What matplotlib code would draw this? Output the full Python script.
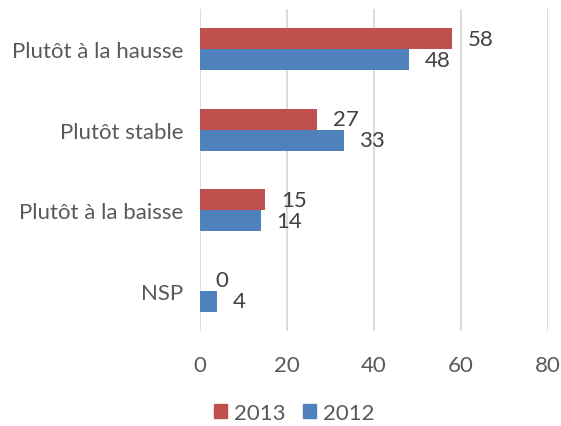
import numpy as np
import matplotlib.pyplot as plt
from matplotlib.patches import Patch

categories = ["Plutôt à la hausse", "Plutôt stable", "Plutôt à la baisse", "NSP"]
values_2013 = [58, 27, 15, 0]
values_2012 = [48, 33, 14, 4]

red = "#C0504D"
blue = "#4F81BD"
txt = "#595959"

plt.rcParams["font.family"] = ["Lato", "DejaVu Sans"]

fig = plt.figure(figsize=(5.61, 4.27), dpi=100)
ax = fig.add_axes([200 / 561, 1 - 332 / 427, 348 / 561, 322 / 427])

y = np.arange(len(categories))
h = 0.26
ax.barh(y - h / 2, values_2013, height=h, color=red, label="2013")
ax.barh(y + h / 2, values_2012, height=h, color=blue, label="2012")

for yi, v in zip(y, values_2013):
    ax.text(v + 3.6, yi - h / 2, str(v), va="center", ha="left", fontsize=16, color="#404040")
for yi, v in zip(y, values_2012):
    ax.text(v + 3.6, yi + h / 2, str(v), va="center", ha="left", fontsize=16, color="#404040")

ax.set_xlim(0, 80)
ax.set_ylim(3.5, -0.5)
ax.set_xticks([0, 20, 40, 60, 80])
ax.set_yticks(y)
ax.set_yticklabels(categories)
ax.tick_params(axis="both", length=0, labelsize=16, labelcolor=txt)
ax.tick_params(axis="x", pad=17)
ax.tick_params(axis="y", pad=12)
ax.grid(axis="x", color="#D9D9D9", linewidth=1.3)
ax.set_axisbelow(True)
for s in ax.spines.values():
    s.set_visible(False)

handles = [Patch(color=red, label="2013"), Patch(color=blue, label="2012")]
fig.legend(handles=handles, loc="center", bbox_to_anchor=(294 / 561, 1 - 414 / 427),
           ncol=2, frameon=False, fontsize=16, labelcolor=txt,
           handlelength=0.6, handleheight=0.6, handletextpad=0.3, columnspacing=0.8)

fig.savefig("out.png", dpi=100)
